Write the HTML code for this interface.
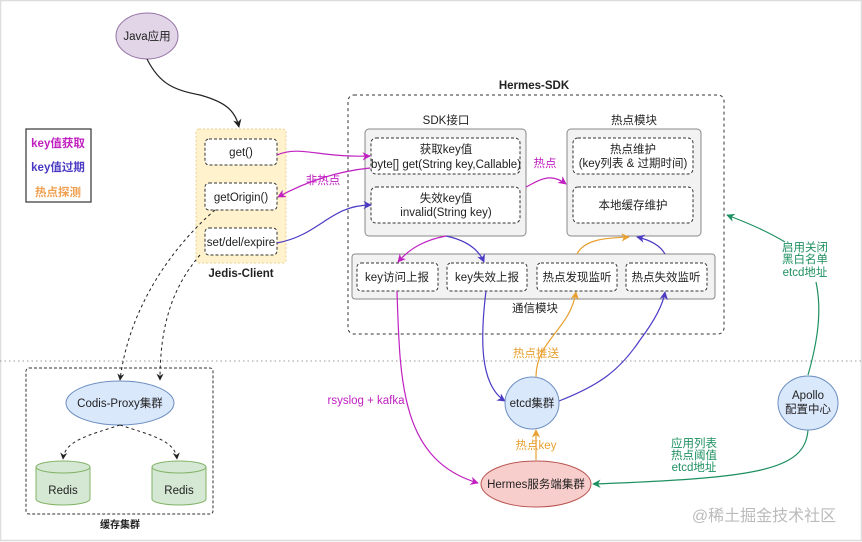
<!DOCTYPE html>
<html><head><meta charset="utf-8"><style>
html,body{margin:0;padding:0;background:#fff}
svg{display:block}
text{font-family:"Liberation Sans","Noto Sans CJK SC",sans-serif;font-size:11.5px;fill:#222;text-anchor:middle}
</style></head><body>
<svg width="862" height="542" viewBox="0 0 862 542" xmlns="http://www.w3.org/2000/svg">
<defs>
<marker id="ak" viewBox="0 0 10 10" refX="9" refY="5" markerWidth="7" markerHeight="7" orient="auto"><path d="M0,0L10,5L0,10L3,5z" fill="#222"/></marker>
<marker id="am" viewBox="0 0 10 10" refX="9" refY="5" markerWidth="7" markerHeight="7" orient="auto"><path d="M0,0L10,5L0,10L3,5z" fill="#c020c0"/></marker>
<marker id="ab" viewBox="0 0 10 10" refX="9" refY="5" markerWidth="7" markerHeight="7" orient="auto"><path d="M0,0L10,5L0,10L3,5z" fill="#4b3bc4"/></marker>
<marker id="ao" viewBox="0 0 10 10" refX="9" refY="5" markerWidth="7" markerHeight="7" orient="auto"><path d="M0,0L10,5L0,10L3,5z" fill="#e8a030"/></marker>
<marker id="ag" viewBox="0 0 10 10" refX="9" refY="5" markerWidth="7" markerHeight="7" orient="auto"><path d="M0,0L10,5L0,10L3,5z" fill="#1e9060"/></marker>
</defs>
<rect x="0" y="0" width="862" height="542" fill="#fff"/>
<rect x="0.5" y="0.5" width="861" height="540" fill="none" stroke="#ddd" stroke-width="1.5"/>
<line x1="0" y1="361" x2="862" y2="361" stroke="#999" stroke-dasharray="1.5,3"/>

<ellipse cx="147" cy="36" rx="31" ry="23" fill="#e1d5e7" stroke="#9673a6"/>
<text x="147" y="40">Java应用</text>
<path d="M147,59 C160,85 175,90 200,95 C225,102 235,110 239,127" fill="none" stroke="#222" stroke-width="1.2" marker-end="url(#ak)"/>

<rect x="26" y="129" width="65" height="73" fill="#fff" stroke="#333" stroke-width="1.2"/>
<text x="58" y="147" style="fill:#c020c0;font-weight:bold">key值获取</text>
<text x="58" y="171" style="fill:#4b3bc4;font-weight:bold">key值过期</text>
<text x="58" y="196" style="fill:#f0a050;font-weight:bold">热点探测</text>

<rect x="196" y="129" width="90" height="134" rx="3" fill="#fff2cc" stroke="#e8d090" stroke-dasharray="2,2"/>
<rect x="205" y="139" width="72" height="26" rx="4" fill="#fff" stroke="#333" stroke-dasharray="3,2"/>
<text x="241" y="156">get()</text>
<rect x="205" y="183" width="72" height="27" rx="4" fill="#fff" stroke="#333" stroke-dasharray="3,2"/>
<text x="241" y="201">getOrigin()</text>
<rect x="205" y="228" width="72" height="27" rx="4" fill="#fff" stroke="#333" stroke-dasharray="3,2"/>
<text x="241" y="246">set/del/expire</text>
<text x="241" y="277" style="font-weight:bold">Jedis-Client</text>

<rect x="348" y="95" width="376" height="239" rx="6" fill="none" stroke="#333" stroke-dasharray="3,3"/>
<text x="534" y="89" style="font-weight:bold">Hermes-SDK</text>
<text x="446" y="124">SDK接口</text>
<rect x="365" y="129" width="161" height="107" rx="4" fill="#f2f2f2" stroke="#888"/>
<rect x="371" y="138" width="149" height="36" rx="5" fill="#fff" stroke="#333" stroke-dasharray="3,2"/>
<text x="446" y="153">获取key值</text>
<text x="446" y="168">byte[] get(String key,Callable)</text>
<rect x="371" y="187" width="149" height="36" rx="5" fill="#fff" stroke="#333" stroke-dasharray="3,2"/>
<text x="446" y="202">失效key值</text>
<text x="446" y="216">invalid(String key)</text>

<text x="634" y="124">热点模块</text>
<rect x="567" y="129" width="134" height="107" rx="4" fill="#f2f2f2" stroke="#888"/>
<rect x="573" y="138" width="120" height="36" rx="5" fill="#fff" stroke="#333" stroke-dasharray="3,2"/>
<text x="633" y="153">热点维护</text>
<text x="633" y="167">(key列表 &amp; 过期时间)</text>
<rect x="573" y="187" width="120" height="36" rx="5" fill="#fff" stroke="#333" stroke-dasharray="3,2"/>
<text x="633" y="209">本地缓存维护</text>

<rect x="352" y="254" width="363" height="45" rx="3" fill="#f2f2f2" stroke="#888"/>
<rect x="357" y="263" width="81" height="28" rx="4" fill="#fff" stroke="#333" stroke-dasharray="3,2"/>
<text x="397" y="281">key访问上报</text>
<rect x="447" y="263" width="80" height="28" rx="4" fill="#fff" stroke="#333" stroke-dasharray="3,2"/>
<text x="487" y="281">key失效上报</text>
<rect x="537" y="263" width="80" height="28" rx="4" fill="#fff" stroke="#333" stroke-dasharray="3,2"/>
<text x="577" y="281">热点发现监听</text>
<rect x="626" y="263" width="81" height="28" rx="4" fill="#fff" stroke="#333" stroke-dasharray="3,2"/>
<text x="666" y="281">热点失效监听</text>
<text x="535" y="312">通信模块</text>

<path d="M277,155 C300,145 320,158 370,156" fill="none" stroke="#c020c0" stroke-width="1.2" marker-end="url(#am)"/>
<path d="M370,168 C330,172 300,185 278,197" fill="none" stroke="#c020c0" stroke-width="1.2" marker-end="url(#am)"/>
<text x="323" y="184" style="fill:#c020c0">非热点</text>
<path d="M277,243 C320,235 330,205 371,205" fill="none" stroke="#4b3bc4" stroke-width="1.2" marker-end="url(#ab)"/>
<path d="M526,187 C540,180 550,172 566,184" fill="none" stroke="#c020c0" stroke-width="1.2" marker-end="url(#am)"/>
<text x="545" y="167" style="fill:#c020c0">热点</text>
<path d="M446,236 C425,240 410,248 398,262" fill="none" stroke="#c020c0" stroke-width="1.2" marker-end="url(#am)"/>
<path d="M446,236 C465,240 478,248 484,262" fill="none" stroke="#4b3bc4" stroke-width="1.2" marker-end="url(#ab)"/>
<path d="M577,254 C585,238 610,238 629,237" fill="none" stroke="#e8a030" stroke-width="1.2" marker-end="url(#ao)"/>
<path d="M665,254 C660,245 650,240 637,237" fill="none" stroke="#4b3bc4" stroke-width="1.2" marker-end="url(#ab)"/>

<rect x="26" y="368" width="187" height="146" rx="3" fill="none" stroke="#333" stroke-dasharray="3,2"/>
<text x="120" y="528" style="font-weight:bold;font-size:10px">缓存集群</text>
<path d="M215,210 C180,240 130,300 120,380" fill="none" stroke="#222" stroke-dasharray="3,3" marker-end="url(#ak)"/>
<path d="M200,255 C170,290 160,330 160,380" fill="none" stroke="#222" stroke-dasharray="3,3" marker-end="url(#ak)"/>
<ellipse cx="120" cy="403" rx="54" ry="22" fill="#dae8fc" stroke="#6c8ebf"/>
<text x="120" y="407">Codis-Proxy集群</text>
<path d="M120,425 C90,435 65,440 63,459" fill="none" stroke="#222" stroke-dasharray="3,3" marker-end="url(#ak)"/>
<path d="M120,425 C150,435 175,440 177,459" fill="none" stroke="#222" stroke-dasharray="3,3" marker-end="url(#ak)"/>
<g fill="#d5e8d4" stroke="#82b366">
<path d="M36,467 L36,499 A27,6 0 0 0 90,499 L90,467"/>
<ellipse cx="63" cy="467" rx="27" ry="6"/>
<path d="M152,467 L152,499 A27,6 0 0 0 206,499 L206,467"/>
<ellipse cx="179" cy="467" rx="27" ry="6"/>
</g>
<text x="63" y="494">Redis</text>
<text x="179" y="494">Redis</text>

<path d="M397,291 C400,380 400,460 478,483" fill="none" stroke="#c020c0" stroke-width="1.2" marker-end="url(#am)"/>
<text x="366" y="404" style="fill:#c020c0">rsyslog + kafka</text>
<path d="M486,291 C480,340 480,385 505,401" fill="none" stroke="#4b3bc4" stroke-width="1.2" marker-end="url(#ab)"/>
<path d="M536,377 C536,340 570,330 576,292" fill="none" stroke="#e8a030" stroke-width="1.2" marker-end="url(#ao)"/>
<text x="536" y="357" style="fill:#e8a030">热点推送</text>
<path d="M559,401 C600,385 620,370 640,340 C655,320 663,305 665,292" fill="none" stroke="#4b3bc4" stroke-width="1.2" marker-end="url(#ab)"/>
<path d="M536,460 L536,430" fill="none" stroke="#e8a030" stroke-width="1.2" marker-end="url(#ao)"/>
<text x="536" y="449" style="fill:#e8a030">热点key</text>
<path d="M808,430 C805,470 760,478 593,484" fill="none" stroke="#1e9060" stroke-width="1.2" marker-end="url(#ag)"/>
<text x="694" y="447" style="fill:#1e9060">应用列表</text>
<text x="694" y="459" style="fill:#1e9060">热点阈值</text>
<text x="694" y="471" style="fill:#1e9060">etcd地址</text>
<path d="M808,375 C818,340 822,310 816,282" fill="none" stroke="#1e9060" stroke-width="1.2"/>
<path d="M785,242 C765,230 745,222 727,215" fill="none" stroke="#1e9060" stroke-width="1.2" marker-end="url(#ag)"/>
<text x="805" y="251" style="fill:#1e9060">启用关闭</text>
<text x="805" y="263" style="fill:#1e9060">黑白名单</text>
<text x="805" y="276" style="fill:#1e9060">etcd地址</text>

<ellipse cx="532" cy="403" rx="27" ry="26" fill="#dae8fc" stroke="#6c8ebf"/>
<text x="532" y="407">etcd集群</text>
<ellipse cx="536" cy="484" rx="55" ry="23" fill="#f8cecc" stroke="#b85450"/>
<text x="536" y="488">Hermes服务端集群</text>
<ellipse cx="808" cy="403" rx="30" ry="27" fill="#dae8fc" stroke="#6c8ebf"/>
<text x="808" y="399">Apollo</text>
<text x="808" y="413">配置中心</text>

<text x="764" y="521" style="fill:#bbb;font-size:16px">@稀土掘金技术社区</text>
</svg>
</body></html>
